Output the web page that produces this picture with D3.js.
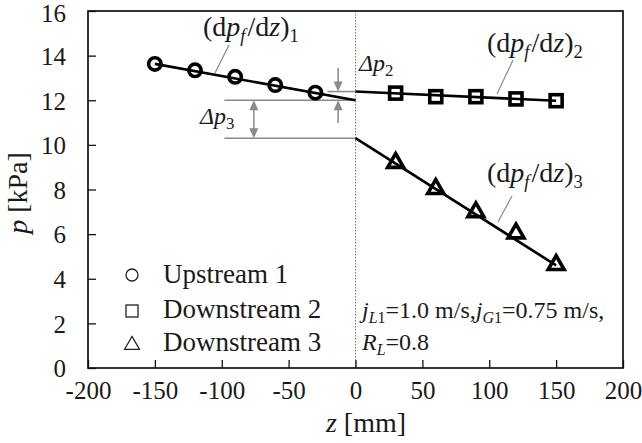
<!DOCTYPE html>
<html><head><meta charset="utf-8">
<script src="https://cdn.jsdelivr.net/npm/d3@7"></script>
<style>
html,body{margin:0;padding:0;background:#fff;}
</style></head>
<body><svg id="c" width="642" height="443"></svg>
<script>
// ---- data ----
const zUp = [-150, -120, -90, -60, -30];
const pUp = [13.63, 13.34, 13.05, 12.68, 12.34];
const zDown = [30, 60, 90, 120, 150];
const pDown2 = [12.32, 12.16, 12.16, 12.06, 11.98];
const pDown3 = [9.2, 8.03, 6.99, 6.04, 4.62];
// fitted lines (endpoints)
const fit1 = [[-150, 13.63], [0, 12.0]];
const fit2 = [[0, 12.39], [150, 11.98]];
const fit3 = [[0, 10.3], [150, 4.6]];
const xTicks = [-200, -150, -100, -50, 0, 50, 100, 150, 200];
const yTicks = [0, 2, 4, 6, 8, 10, 12, 14, 16];
const legendLabels = ["Upstream 1", "Downstream 2", "Downstream 3"];

const FONT = '"Liberation Serif", "Times New Roman", serif';
const INK = "#1a1a1a";
const svg = d3.select("#c").style("font-family", FONT);
const L = 88, R = 623, T = 11, B = 368;
const x = d3.scaleLinear().domain([-200, 200]).range([L, R]);
const y = d3.scaleLinear().domain([0, 16]).range([B, T]);

function txt(xp, yp, size) {
  return svg.append("text").attr("x", xp).attr("y", yp)
    .style("font-family", FONT).style("font-size", size + "px").style("fill", INK);
}

// dotted vertical line at z=0
svg.append("line").attr("x1", x(0)).attr("x2", x(0)).attr("y1", T).attr("y2", B)
  .attr("stroke", "#777").attr("stroke-width", 1).attr("stroke-dasharray", "1.5,1.5");

// axes
const TF = 25;
const xAxis = d3.axisBottom(x).tickValues(xTicks).tickSize(-8).tickPadding(13).tickFormat(d => String(d));
const yAxis = d3.axisLeft(y).tickValues(yTicks).tickSize(-8).tickPadding(22).tickFormat(d => String(d));
const gx = svg.append("g").attr("transform", `translate(0,${B})`).call(xAxis);
const gy = svg.append("g").attr("transform", `translate(${L},0)`).call(yAxis);
[gx, gy].forEach(g => {
  g.attr("font-family", null).attr("font-size", null);
  g.select(".domain").remove();
  g.selectAll(".tick line").attr("stroke", "#111").attr("stroke-width", 1.3);
  g.selectAll(".tick text").style("font-family", FONT).style("font-size", TF + "px").style("fill", INK);
});
gx.selectAll(".tick text").attr("dy", "0.71em");
gy.selectAll(".tick text").attr("dy", d => d === 16 ? "0.42em" : "0.35em");
// frame
svg.append("rect").attr("x", L).attr("y", T).attr("width", R - L).attr("height", B - T)
  .attr("fill", "none").attr("stroke", "#111").attr("stroke-width", 1.7);

// axis titles
const xt = txt(366, 432, 28).attr("text-anchor", "middle");
xt.append("tspan").style("font-style", "italic").text("z");
xt.append("tspan").text(" [mm]");
const yt = svg.append("text").attr("transform", "translate(27,193) rotate(-90)").attr("text-anchor", "middle")
  .style("font-family", FONT).style("font-size", "28px").style("fill", INK);
yt.append("tspan").style("font-style", "italic").text("p");
yt.append("tspan").text(" [kPa]");

// annotation lines (gray)
const gray = "#8a8a8a";
function hline(z0, z1, p) {
  svg.append("line").attr("x1", x(z0)).attr("x2", x(z1)).attr("y1", y(p)).attr("y2", y(p))
    .attr("stroke", gray).attr("stroke-width", 1.5);
}
function arrow(z, pFrom, pTo) {
  const xx = x(z), y0 = y(pFrom), y1 = y(pTo);
  const dir = y1 > y0 ? 1 : -1;
  svg.append("line").attr("x1", xx).attr("x2", xx).attr("y1", y0).attr("y2", y1 - dir * 8)
    .attr("stroke", gray).attr("stroke-width", 1.5);
  svg.append("path").attr("d", `M${xx},${y1} L${xx - 4.5},${y1 - dir * 10} L${xx + 4.5},${y1 - dir * 10} Z`)
    .attr("fill", gray);
}
hline(-98, 0, 12.0);
hline(-98, 0, 10.3);
hline(-21, 0, 12.39);
const mid3 = (12.0 + 10.3) / 2;
arrow(-76, mid3, 12.0);
arrow(-76, mid3, 10.3);
arrow(-13, 13.45, 12.39);
arrow(-13, 10.98, 12.0);

// leader lines
function leader(x1, y1, x2, y2) {
  svg.append("line").attr("x1", x1).attr("y1", y1).attr("x2", x2).attr("y2", y2)
    .attr("stroke", gray).attr("stroke-width", 1.2);
}
leader(229, 45, 215, 73);
leader(513, 60, 497, 94);
leader(512, 196, 498, 222);

// fit lines
const line = d3.line().x(d => x(d[0])).y(d => y(d[1]));
[fit1, fit2, fit3].forEach(f => {
  svg.append("path").attr("d", line(f)).attr("fill", "none").attr("stroke", "#000").attr("stroke-width", 2.6);
});

// markers
const SW = 3.6;
svg.selectAll(".c").data(zUp).enter().append("circle")
  .attr("cx", d => x(d)).attr("cy", (d, i) => y(pUp[i])).attr("r", 6.2)
  .attr("fill", "none").attr("stroke", "#000").attr("stroke-width", SW);
svg.selectAll(".s").data(zDown).enter().append("rect")
  .attr("x", d => x(d) - 6).attr("y", (d, i) => y(pDown2[i]) - 6).attr("width", 12).attr("height", 12)
  .attr("fill", "none").attr("stroke", "#000").attr("stroke-width", SW);
const tri = d3.symbol().type(d3.symbolTriangle).size(110);
svg.selectAll(".t").data(zDown).enter().append("path")
  .attr("d", tri).attr("transform", (d, i) => `translate(${x(d)},${y(pDown3[i])})`)
  .attr("fill", "none").attr("stroke", "#000").attr("stroke-width", SW);

// gradient labels
function gradLabel(xp, yp, sub) {
  const fs = 28;
  const t = txt(xp, yp, fs);
  t.append("tspan").text("(d");
  t.append("tspan").style("font-style", "italic").text("p");
  t.append("tspan").style("font-style", "italic").style("font-size", fs * 0.66 + "px").attr("dy", 6).text("f");
  t.append("tspan").attr("dy", -6).attr("dx", 2).text("/d");
  t.append("tspan").style("font-style", "italic").text("z");
  t.append("tspan").text(")");
  t.append("tspan").style("font-size", fs * 0.66 + "px").attr("dy", 6).text(sub);
}
gradLabel(203, 36, "1");
gradLabel(487, 52, "2");
gradLabel(487, 182, "3");

function deltaLabel(xp, yp, sub) {
  const fs = 24;
  const t = txt(xp, yp, fs).style("font-style", "italic");
  t.append("tspan").text("Δp");
  t.append("tspan").style("font-style", "normal").style("font-size", fs * 0.7 + "px").attr("dy", 5).text(sub);
}
deltaLabel(359, 71, "2");
deltaLabel(200, 124, "3");

// legend
const legY = [275, 311, 345];
const legG = svg.append("g");
legG.append("circle").attr("cx", 132).attr("cy", legY[0]).attr("r", 6).attr("fill", "none").attr("stroke", "#222").attr("stroke-width", 1.3);
legG.append("rect").attr("x", 126).attr("y", legY[1] - 6).attr("width", 12).attr("height", 12).attr("fill", "none").attr("stroke", "#222").attr("stroke-width", 1.3);
legG.append("path").attr("d", d3.symbol().type(d3.symbolTriangle).size(95)).attr("transform", `translate(132,${legY[2]})`)
  .attr("fill", "none").attr("stroke", "#222").attr("stroke-width", 1.3);
const legBase = [283, 318, 351];
legendLabels.forEach((lab, i) => {
  txt(163, legBase[i], 27).text(lab);
});

// condition text
const cs = 24, cs2 = 16;
const c1 = txt(362, 318, cs);
c1.append("tspan").style("font-style", "italic").text("j");
c1.append("tspan").style("font-style", "italic").style("font-size", cs2 + "px").attr("dy", 5).text("L");
c1.append("tspan").style("font-size", cs2 + "px").text("1");
c1.append("tspan").attr("dy", -5).text("=1.0 m/s,");
c1.append("tspan").style("font-style", "italic").text("j");
c1.append("tspan").style("font-style", "italic").style("font-size", cs2 + "px").attr("dy", 5).text("G");
c1.append("tspan").style("font-size", cs2 + "px").text("1");
c1.append("tspan").attr("dy", -5).text("=0.75 m/s,");
const c2 = txt(362, 350, cs);
c2.append("tspan").style("font-style", "italic").text("R");
c2.append("tspan").style("font-style", "italic").style("font-size", cs2 + "px").attr("dy", 5).text("L");
c2.append("tspan").attr("dy", -5).text("=0.8");
</script></body></html>
